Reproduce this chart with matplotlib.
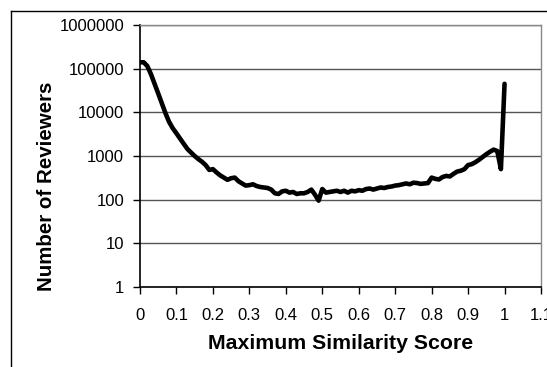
import matplotlib
matplotlib.use("Agg")
import matplotlib.pyplot as plt
from matplotlib.lines import Line2D

plt.rcParams['font.family'] = ['Liberation Sans', 'DejaVu Sans']

scores = [round(i * 0.01, 2) for i in range(101)]
reviewers = [
    140000, 140000, 115000, 75000, 45000, 27000, 16000, 9500, 6000, 4300,
    3300, 2500, 1900, 1450, 1200, 1000, 850, 740, 620, 480,
    500, 420, 360, 320, 285, 310, 320, 265, 235, 210,
    215, 225, 205, 195, 190, 185, 170, 140, 135, 155,
    160, 145, 150, 135, 140, 140, 150, 170, 130, 95,
    175, 145, 150, 155, 160, 150, 160, 145, 160, 155,
    165, 160, 175, 180, 170, 180, 190, 185, 195, 200,
    210, 215, 225, 235, 225, 245, 240, 230, 235, 240,
    320, 300, 290, 330, 350, 340, 390, 440, 460, 500,
    620, 650, 720, 820, 950, 1100, 1250, 1400, 1300, 500,
    45000,
]
x_ticks = [0, 0.1, 0.2, 0.3, 0.4, 0.5, 0.6, 0.7, 0.8, 0.9, 1, 1.1]
x_tick_labels = ["0", "0.1", "0.2", "0.3", "0.4", "0.5", "0.6", "0.7", "0.8", "0.9", "1", "1.1"]
y_ticks = [1, 10, 100, 1000, 10000, 100000, 1000000]
y_tick_labels = ["1", "10", "100", "1000", "10000", "100000", "1000000"]

W, H = 547, 367
fig = plt.figure(figsize=(W / 100, H / 100), dpi=100)
ax = fig.add_axes([140 / W, 1 - 287 / H, (541 - 140) / W, (287 - 25) / H])

ax.plot(scores, reviewers, color="black", lw=3.3, solid_joinstyle="round",
        solid_capstyle="round", zorder=3)
ax.set_yscale("log")
ax.set_xlim(0, 1.1)
ax.set_ylim(1, 1000000)
ax.set_xticks(x_ticks)
ax.set_xticklabels(x_tick_labels, fontsize=12)
ax.set_yticks(y_ticks)
ax.set_yticklabels(y_tick_labels, fontsize=12)
ax.yaxis.set_minor_locator(matplotlib.ticker.NullLocator())
ax.tick_params(axis="both", direction="out", length=5, width=1, color="black")
ax.tick_params(axis="y", pad=6.5)
ax.tick_params(axis="x", pad=10)
ax.grid(axis="y", color="#555555", lw=1)
ax.set_axisbelow(True)
for s in ["top", "right"]:
    ax.spines[s].set_color("#888888")
    ax.spines[s].set_linewidth(1)
for s in ["left", "bottom"]:
    ax.spines[s].set_color("black")
    ax.spines[s].set_linewidth(1.2)

ax.set_xlabel("Maximum Similarity Score", fontsize=15.3, fontweight="bold", labelpad=8)
ax.set_ylabel("Number of Reviewers", fontsize=14.8, fontweight="bold")
ax.yaxis.set_label_coords(-84 / 401, 0.385, transform=ax.transAxes)

bx = 10.5 / W
by = 1 - 11 / H
fig.add_artist(Line2D([bx, bx], [0, by], transform=fig.transFigure, color="black", lw=1))
fig.add_artist(Line2D([bx, 1], [by, by], transform=fig.transFigure, color="black", lw=1))

fig.savefig("out.png", dpi=100)
